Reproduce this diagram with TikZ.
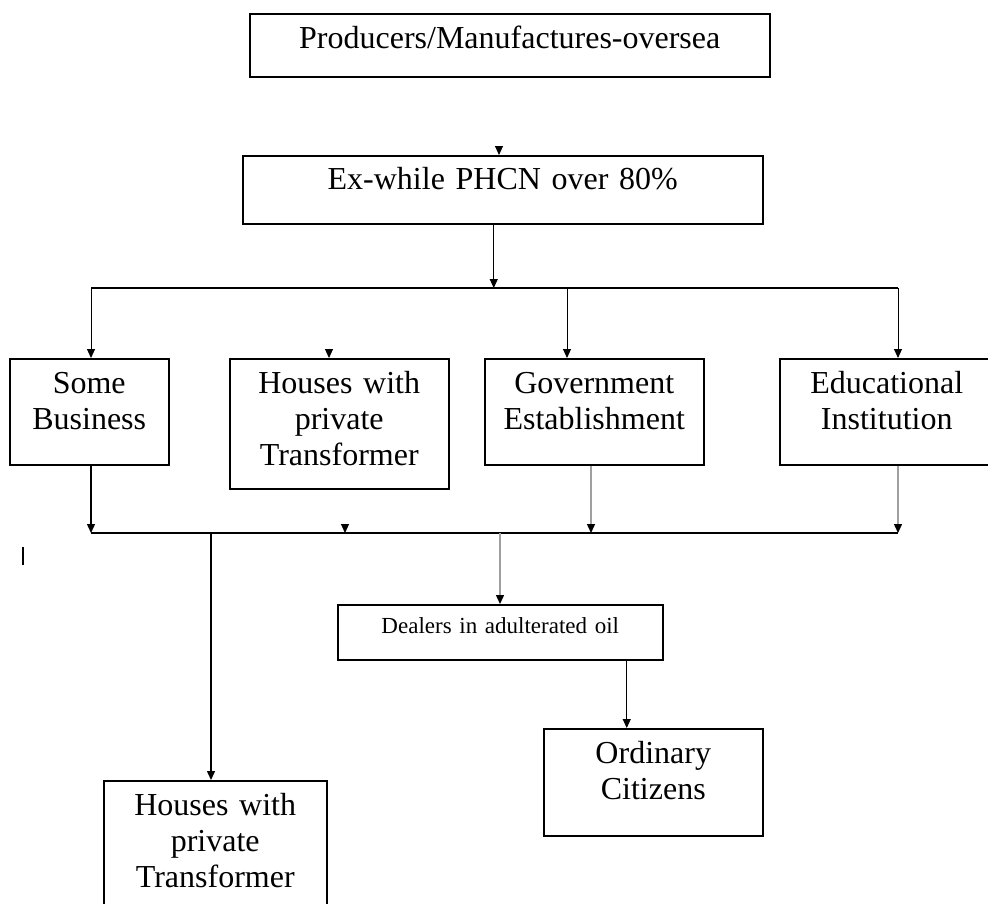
\documentclass[tikz,border=0pt]{standalone}
\usepackage{fontspec}
\setmainfont{Liberation Serif}
\usetikzlibrary{arrows.meta}

\tikzset{
    >={Triangle[length=9pt,width=8pt]},
    box/.style={draw, line width=1.5pt, anchor=north west, inner sep=0pt, align=center, font=\fontsize{32}{36}\selectfont},
    link/.style={->, line width=1pt},
    greylink/.style={line width=1.4pt, draw=gray!75, -{Triangle[length=9pt,width=8pt,color=black]}},
    bus/.style={line width=1.5pt},
}

\begin{document}
\begin{tikzpicture}[x=1pt, y=-1pt]
    \useasboundingbox (0,0) rectangle (988,903);
    % Top boxes
    \node[box, text width=520pt, text height=35pt, text depth=28pt] (prod) at (249,13) {Producers/Manufactures-oversea};
    \node[box, text width=520pt, text height=34pt, text depth=34pt] (ex) at (242,155) {Ex-while PHCN over 80\%};
    % Middle row
    \foreach \name/\x/\w/\d/\txt in {sb/9/159/71/{Some\\Business}, hp/229/219/95/{Houses with\\private\\Transformer}, gov/484/219/71/{Government\\Establishment}, edu/779/214/71/{Educational\\Institution}} {
        \node[box, text width=\w pt, text height=35pt, text depth=\d pt] (\name) at (\x,358) {\txt};
    }
    % Bottom boxes
    \node[box, font=\fontsize{23}{26}\selectfont, text width=325pt, text height=29pt, text depth=26pt] (dealer) at (337,604) {Dealers in adulterated oil};
    \node[box, text width=219pt, text height=35pt, text depth=72pt] (oc) at (543,728) {Ordinary\\Citizens};
    \node[box, text width=223pt, text height=35pt, text depth=105pt] (hb) at (103,780) {Houses with\\private\\Transformer};
    % Buses
    \coordinate (busA-l) at (91,288);
    \coordinate (busA-r) at (898,288);
    \coordinate (busB-l) at (91,533);
    \coordinate (busB-r) at (898,533);
    \draw[bus] (busA-l) -- (busA-r);
    \draw[bus] (busB-l) -- (busB-r);
    % Arrows
    \coordinate (tip-ex) at (499,146);
    \draw[link] (tip-ex) -- (tip-ex |- ex.north);
    \draw[link] ([xshift=-9pt]ex.south) -- ([xshift=-9pt]ex.south |- busA-l);
    \foreach \name/\x in {sb/91, gov/567, edu/898} {
        \coordinate (drop-\name) at (\x,288);
        \draw[link] (drop-\name) -- (\name.north -| drop-\name);
    }
    \coordinate (tip-hp) at (329,349);
    \draw[link] (tip-hp) -- (tip-hp |- hp.north);
    \draw[link, line width=1.4pt] (sb.south -| busB-l) -- (busB-l);
    \foreach \name/\x in {gov/591, edu/898} {
        \coordinate (rise-\name) at (\x,533);
        \draw[greylink] (\name.south -| rise-\name) -- (rise-\name);
    }
    \coordinate (tip-b) at (345,524);
    \draw[link] (tip-b) -- (tip-b |- busB-l);
    \coordinate (fall-hb) at (211,533);
    \draw[link, line width=1.4pt] (fall-hb) -- (fall-hb |- hb.north);
    \coordinate (fall-dealer) at (500,533);
    \draw[greylink] (fall-dealer) -- (fall-dealer |- dealer.north);
    \draw[link] ([xshift=126.5pt]dealer.south) -- ([xshift=126.5pt]dealer.south |- oc.north);
    % mark
    \draw[line width=1.2pt] (23,547) -- (23,565);
\end{tikzpicture}
\end{document}
